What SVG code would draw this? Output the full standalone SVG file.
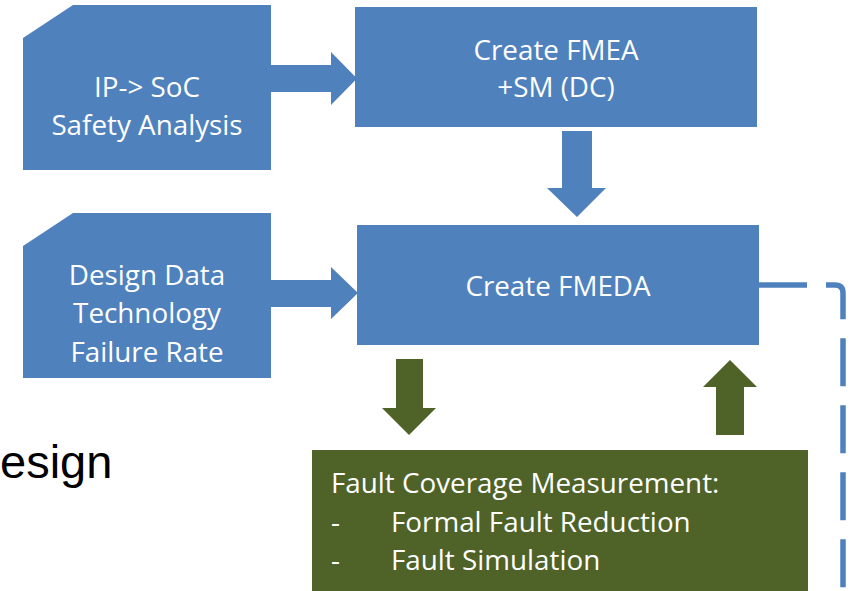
<svg xmlns="http://www.w3.org/2000/svg" width="859" height="591" viewBox="0 0 859 591">
<style>
.blue{fill:#4F81BD;}
.green{fill:#4F6228;}
.t{font-family:"Open Sans","Noto Sans",sans-serif;font-size:27.8px;fill:#FFFFFF;}
.c{text-anchor:middle;}
.dash{fill:none;stroke:#4F81BD;stroke-width:5.5;stroke-dasharray:48 19;}
</style>
<rect width="859" height="591" fill="#FFFFFF"/>
<text x="0" y="478" font-family="'Liberation Sans',Arial,sans-serif" font-size="47" fill="#000000">esign</text>
<g id="connectors">
<polygon class="blue" points="271,65 331,65 331,52 357,78.5 331,105 331,92 271,92"/>
<polygon class="blue" points="271,280 331,280 331,267 358,293 331,319 331,307 271,307"/>
<polygon class="blue" points="562,131 592,131 592,188 606,188 577,217 547,188 562,188"/>
<polygon class="green" points="396,359 423,359 423,408 436,408 409,435 382,408 396,408"/>
<polygon class="green" points="730,360 757,387 744,387 744,435 716,435 716,387 703,387"/>
<path class="dash" d="M759,285 H835 Q843,285 843,293 V591"/>
</g>
<g id="ip-soc">
<polygon class="blue" points="73,5 271,5 271,170 23,170 23,38"/>
<text class="t c" x="147" y="97">IP-&gt; SoC</text>
<text class="t c" x="147" y="135">Safety Analysis</text>
</g>
<g id="design-data">
<polygon class="blue" points="73,213 271,213 271,378 23,378 23,246"/>
<text class="t c" x="147" y="285">Design Data</text>
<text class="t c" x="147" y="323">Technology</text>
<text class="t c" x="147" y="362">Failure Rate</text>
</g>
<g id="create-fmea">
<rect class="blue" x="355" y="7" width="402" height="120"/>
<text class="t c" x="556" y="60">Create FMEA</text>
<text class="t c" x="556" y="97">+SM (DC)</text>
</g>
<g id="create-fmeda">
<rect class="blue" x="357" y="225" width="402" height="120"/>
<text class="t c" x="558" y="296">Create FMEDA</text>
</g>
<g id="fault-coverage">
<rect class="green" x="312" y="450" width="496" height="141"/>
<text class="t" x="331" y="493">Fault Coverage Measurement:</text>
<text class="t" x="331" y="532">-</text>
<text class="t" x="391" y="532">Formal Fault Reduction</text>
<text class="t" x="331" y="570">-</text>
<text class="t" x="391" y="570">Fault Simulation</text>
</g>
</svg>
